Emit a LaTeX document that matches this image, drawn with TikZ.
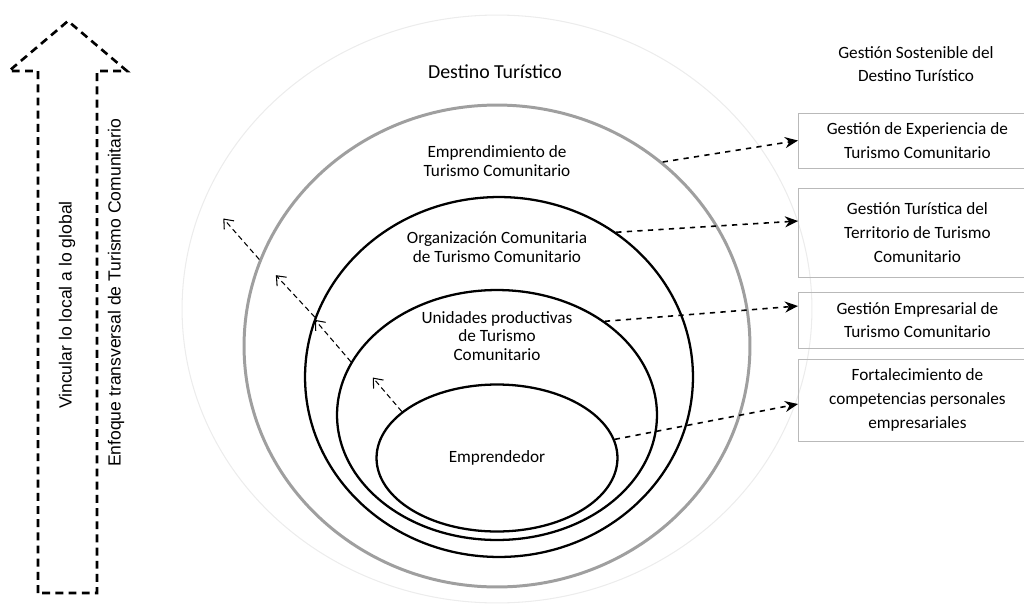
\documentclass[tikz,border=0pt]{standalone}
\usepackage{fontspec}
\setmainfont{Carlito}
\newfontfamily\arialfont{Liberation Sans}
\usetikzlibrary{shapes.geometric,arrows.meta,positioning}

\begin{document}
\begin{tikzpicture}[x=0.02cm,y=-0.02cm]

% \draw[step=50,gray,very thin] (0,0) grid (1024,605);

\tikzstyle{ring} = [draw=black, line width=1.3pt, ellipse, inner sep=0pt]
\tikzstyle{outerring} = [draw=gray!75, line width=1.7pt, ellipse, inner sep=0pt]
\tikzstyle{faintring} = [draw=gray!15, line width=0.6pt, ellipse, inner sep=0pt]
\tikzstyle{ringtext} = [align=center, font=\fontsize{9.8}{10.5}\selectfont]
\tikzstyle{gbox} = [draw=gray!55, line width=0.5pt, rectangle, anchor=west, minimum width=4.76cm, align=center, font=\fontsize{9.8}{13.5}\selectfont]
\tikzstyle{toarrow} = [dashed, line width=0.9pt, -{Stealth[length=2.6mm,width=2.2mm]}]
\tikzstyle{uparrow} = [densely dashed, line width=0.6pt, -{Straight Barb[length=1.6mm,width=2.6mm]}]
\tikzstyle{sidetext} = [rotate=90, font=\arialfont\fontsize{10}{12}\selectfont]

\useasboundingbox (0,0) rectangle (1024,605);

\node (fa) [faintring, minimum width=12.6cm, minimum height=11.76cm] at (497,309) {};
\node (e1) [outerring, minimum width=10.12cm, minimum height=9.64cm] at (497,346) {};
\node (e2) [ring, minimum width=7.76cm, minimum height=7.2cm] at (499,377) {};
\node (e3) [ring, minimum width=6.4cm, minimum height=5cm] at (497,415) {};
\node (e4) [ring, ringtext, minimum width=4.82cm, minimum height=2.94cm] at (497,458) {Emprendedor};

\node (destino) [ringtext, font=\fontsize{11.3}{13}\selectfont] at (495,72) {Destino Turístico};
\node (e1text) [ringtext] at (497,161) {Emprendimiento de\\Turismo Comunitario};
\node (e2text) [ringtext] at (497,247) {Organización Comunitaria\\de Turismo Comunitario};
\node (e3text) [ringtext] at (497,336) {Unidades productivas\\de Turismo\\Comunitario};
\node (gestion) [ringtext, font=\fontsize{9.8}{13}\selectfont] at (916,64) {Gestión Sostenible del\\Destino Turístico};

\node (b1) [gbox, minimum height=1.1cm] at (798,140.5) {Gestión de Experiencia de\\Turismo Comunitario};
\node (b2) [gbox, minimum height=1.78cm] at (798,232.5) {Gestión Turística del\\Territorio de Turismo\\Comunitario};
\node (b3) [gbox, minimum height=1.12cm] at (798,320) {Gestión Empresarial de\\Turismo Comunitario};
\node (b4) [gbox, minimum height=1.64cm] at (798,400) {Fortalecimiento de\\competencias personales\\empresariales};

\draw[toarrow] (e1.48) -- (b1.west);
\draw[toarrow] (e2.51) -- ([yshift=0.23cm]b2.west);
\draw[toarrow] (e3.41) -- ([yshift=0.28cm]b3.west);
\draw[toarrow] (e4.9) -- ([yshift=-0.08cm]b4.west);

\draw[uparrow] (e1.160) -- ++(-36,-41);
\draw[uparrow] (e2.162) -- ++(-39,-42);
\draw[uparrow] (e3.160) -- ++(-36,-42);
\draw[uparrow] (e4.154) -- ++(-29,-34);

% big dashed arrow
\draw[black, line width=1.5pt, dash pattern=on 4.5pt off 3pt] (38,593) -- (38,71) -- (9,71) -- (68,21) -- (127,71) -- (97,71) -- (97,593) -- cycle;
\node (vincular) [sidetext] at (67,305) {Vincular lo local a lo global};
\node (enfoque) [sidetext] at (116,293) {Enfoque transversal de Turismo Comunitario};

\end{tikzpicture}
\end{document}
